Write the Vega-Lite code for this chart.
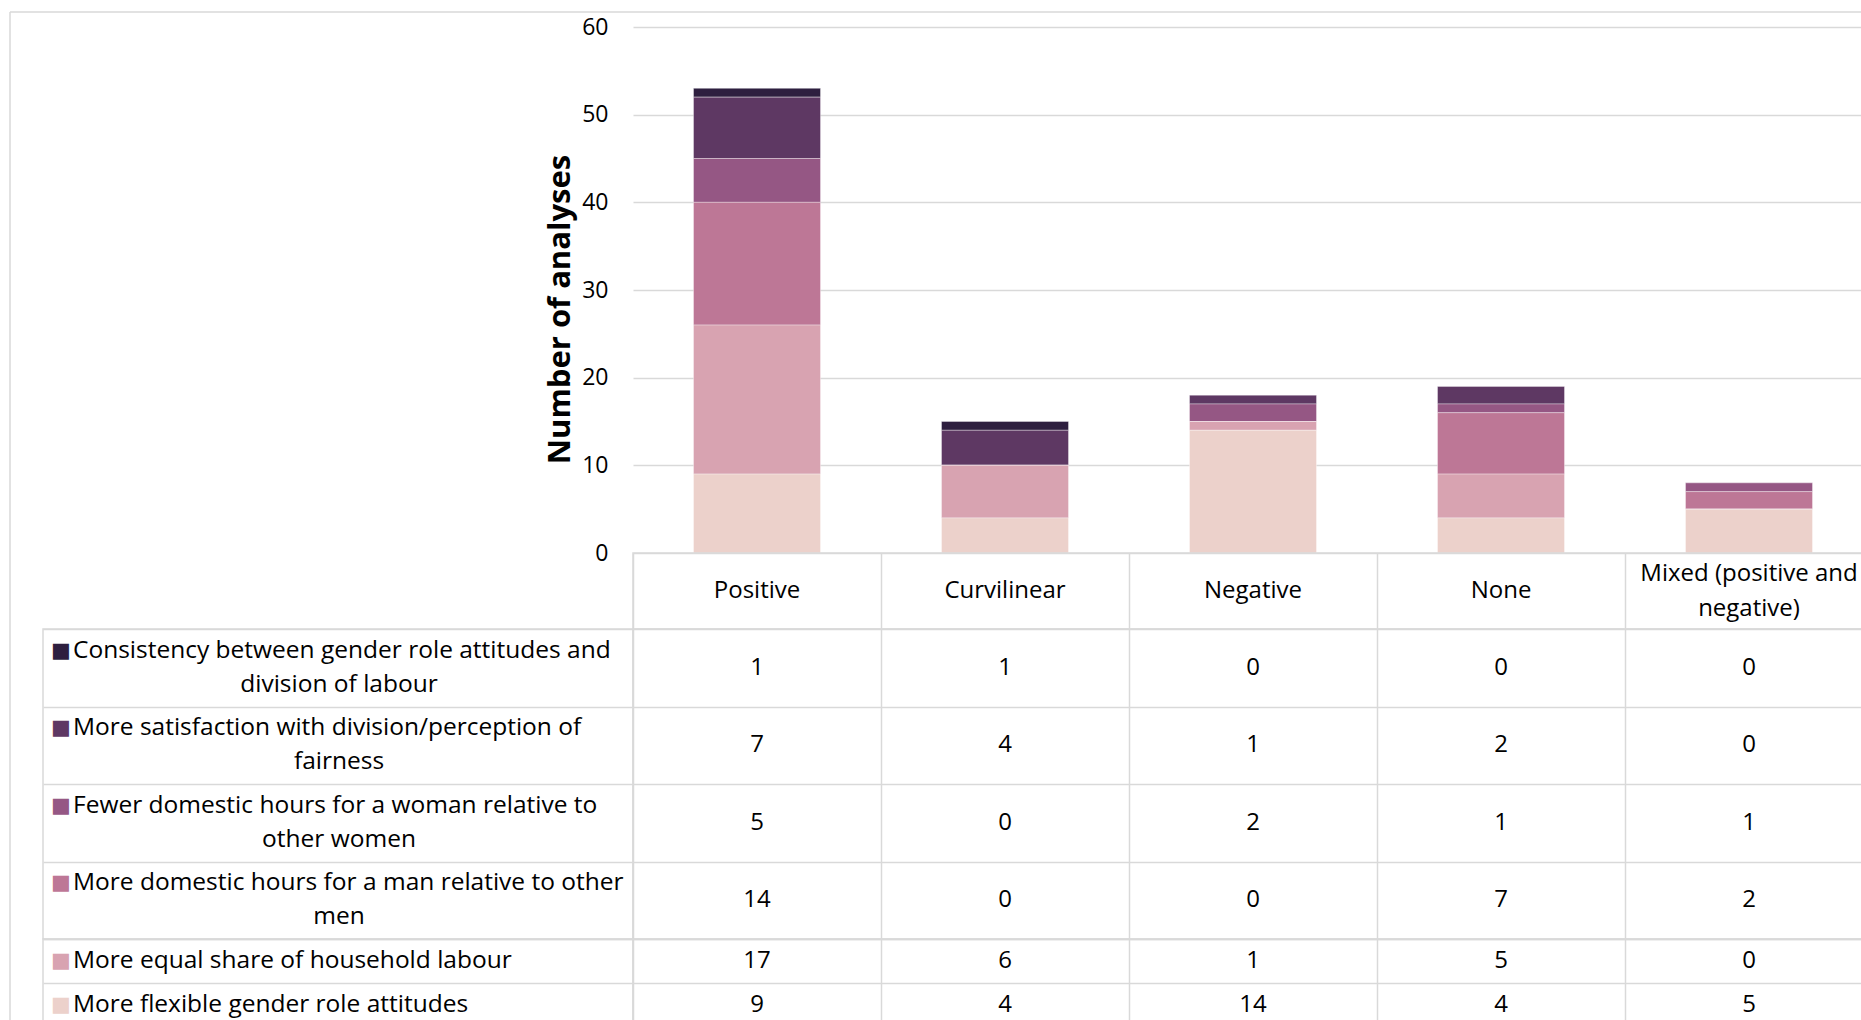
{
  "$schema": "https://vega.github.io/schema/vega-lite/v6.json",
  "background": "white",
  "padding": {"left": 9, "top": 11, "right": 0, "bottom": 0},
  "columns": 3,
  "spacing": 0,
  "bounds": "flush",
  "datasets": {
    "counts": [
      {"row": 1, "series": "Consistency between gender role attitudes and division of labour", "outcome": "Positive", "n": 1},
      {"row": 1, "series": "Consistency between gender role attitudes and division of labour", "outcome": "Curvilinear", "n": 1},
      {"row": 1, "series": "Consistency between gender role attitudes and division of labour", "outcome": "Negative", "n": 0},
      {"row": 1, "series": "Consistency between gender role attitudes and division of labour", "outcome": "None", "n": 0},
      {"row": 1, "series": "Consistency between gender role attitudes and division of labour", "outcome": "Mixed (positive and negative)", "n": 0},
      {"row": 2, "series": "More satisfaction with division/perception of fairness", "outcome": "Positive", "n": 7},
      {"row": 2, "series": "More satisfaction with division/perception of fairness", "outcome": "Curvilinear", "n": 4},
      {"row": 2, "series": "More satisfaction with division/perception of fairness", "outcome": "Negative", "n": 1},
      {"row": 2, "series": "More satisfaction with division/perception of fairness", "outcome": "None", "n": 2},
      {"row": 2, "series": "More satisfaction with division/perception of fairness", "outcome": "Mixed (positive and negative)", "n": 0},
      {"row": 3, "series": "Fewer domestic hours for a woman relative to other women", "outcome": "Positive", "n": 5},
      {"row": 3, "series": "Fewer domestic hours for a woman relative to other women", "outcome": "Curvilinear", "n": 0},
      {"row": 3, "series": "Fewer domestic hours for a woman relative to other women", "outcome": "Negative", "n": 2},
      {"row": 3, "series": "Fewer domestic hours for a woman relative to other women", "outcome": "None", "n": 1},
      {"row": 3, "series": "Fewer domestic hours for a woman relative to other women", "outcome": "Mixed (positive and negative)", "n": 1},
      {"row": 4, "series": "More domestic hours for a man relative to other men", "outcome": "Positive", "n": 14},
      {"row": 4, "series": "More domestic hours for a man relative to other men", "outcome": "Curvilinear", "n": 0},
      {"row": 4, "series": "More domestic hours for a man relative to other men", "outcome": "Negative", "n": 0},
      {"row": 4, "series": "More domestic hours for a man relative to other men", "outcome": "None", "n": 7},
      {"row": 4, "series": "More domestic hours for a man relative to other men", "outcome": "Mixed (positive and negative)", "n": 2},
      {"row": 5, "series": "More equal share of household labour", "outcome": "Positive", "n": 17},
      {"row": 5, "series": "More equal share of household labour", "outcome": "Curvilinear", "n": 6},
      {"row": 5, "series": "More equal share of household labour", "outcome": "Negative", "n": 1},
      {"row": 5, "series": "More equal share of household labour", "outcome": "None", "n": 5},
      {"row": 5, "series": "More equal share of household labour", "outcome": "Mixed (positive and negative)", "n": 0},
      {"row": 6, "series": "More flexible gender role attitudes", "outcome": "Positive", "n": 9},
      {"row": 6, "series": "More flexible gender role attitudes", "outcome": "Curvilinear", "n": 4},
      {"row": 6, "series": "More flexible gender role attitudes", "outcome": "Negative", "n": 14},
      {"row": 6, "series": "More flexible gender role attitudes", "outcome": "None", "n": 4},
      {"row": 6, "series": "More flexible gender role attitudes", "outcome": "Mixed (positive and negative)", "n": 5}
    ],
    "series": [
      {"row": 1, "series": "Consistency between gender role attitudes and division of labour", "line1": "Consistency between gender role attitudes and", "line2": "division of labour"},
      {"row": 2, "series": "More satisfaction with division/perception of fairness", "line1": "More satisfaction with division/perception of", "line2": "fairness"},
      {"row": 3, "series": "Fewer domestic hours for a woman relative to other women", "line1": "Fewer domestic hours for a woman relative to", "line2": "other women"},
      {"row": 4, "series": "More domestic hours for a man relative to other men", "line1": "More domestic hours for a man relative to other", "line2": "men"},
      {"row": 5, "series": "More equal share of household labour", "line1": "More equal share of household labour", "line2": ""},
      {"row": 6, "series": "More flexible gender role attitudes", "line1": "More flexible gender role attitudes", "line2": ""}
    ],
    "outcomes": [
      {"outcome": "Positive", "label": "Positive"},
      {"outcome": "Curvilinear", "label": "Curvilinear"},
      {"outcome": "Negative", "label": "Negative"},
      {"outcome": "None", "label": "None"},
      {"outcome": "Mixed (positive and negative)", "label": "Mixed (positive and\nnegative)"}
    ]
  },
  "concat": [
    {
      "width": 33, "height": 15,
      "data": {"values": [{}]},
      "layer": [
        {"mark": {"type": "rule", "color": "#D9D9D9", "strokeWidth": 1.5},
         "encoding": {"y": {"datum": 1, "type": "quantitative", "scale": {"domain": [0, 1]}, "axis": null}}},
        {"mark": {"type": "rule", "color": "#D9D9D9", "strokeWidth": 1.5},
         "encoding": {"x": {"datum": 0, "type": "quantitative", "scale": {"domain": [0, 1]}, "axis": null}}}
      ]
    },
    {
      "width": 590, "height": 15,
      "data": {"values": [{}]},
      "mark": {"type": "rule", "color": "#D9D9D9", "strokeWidth": 1.5},
      "encoding": {"y": {"datum": 1, "type": "quantitative", "scale": {"domain": [0, 1]}, "axis": null}}
    },
    {
      "width": 1240, "height": 15,
      "data": {"values": [{}]},
      "mark": {"type": "rule", "color": "#D9D9D9", "strokeWidth": 1.5},
      "encoding": {"y": {"datum": 1, "type": "quantitative", "scale": {"domain": [0, 1]}, "axis": null}}
    },
    {
      "width": 33, "height": 526,
      "data": {"values": [{}]},
      "mark": {"type": "rule", "color": "#D9D9D9", "strokeWidth": 1.5},
      "encoding": {"x": {"datum": 0, "type": "quantitative", "scale": {"domain": [0, 1]}, "axis": null}}
    },
    {
      "width": 590, "height": 526,
      "data": {"values": []},
      "mark": "point"
    },
    {
      "width": 1240, "height": 526,
      "data": {"name": "counts"},
      "mark": {"type": "bar", "width": {"band": 0.512}, "stroke": "#ffffff", "strokeOpacity": 0.35, "strokeWidth": 1},
      "encoding": {
        "x": {"field": "outcome", "type": "nominal",
              "scale": {"domain": ["Positive", "Curvilinear", "Negative", "None", "Mixed (positive and negative)"], "paddingInner": 0, "paddingOuter": 0},
              "axis": null},
        "y": {"field": "n", "type": "quantitative", "stack": "zero",
              "scale": {"domain": [0, 60], "nice": false},
              "axis": {"values": [0, 10, 20, 30, 40, 50, 60], "grid": true, "gridColor": "#D9D9D9", "gridWidth": 1.5,
                       "domain": false, "ticks": false, "tickSize": 0, "labelPadding": 25,
                       "labelFont": "Open Sans", "labelFontSize": 23, "labelColor": "#000000",
                       "title": "Number of analyses", "titleFont": "Open Sans", "titleFontSize": 31, "titleFontWeight": "bold",
                       "titleColor": "#000000", "titleX": -57, "titleY": 282}},
        "color": {"field": "series", "type": "nominal",
                  "scale": {"domain": ["Consistency between gender role attitudes and division of labour", "More satisfaction with division/perception of fairness", "Fewer domestic hours for a woman relative to other women", "More domestic hours for a man relative to other men", "More equal share of household labour", "More flexible gender role attitudes"],
                            "range": ["#2E1F3F", "#5E3863", "#955784", "#BD7796", "#D8A3B1", "#ECD1CB"]},
                  "legend": null},
        "order": {"field": "row", "type": "quantitative", "sort": "descending"}
      }
    },
    {
      "width": 33, "height": 76,
      "data": {"values": [{}]},
      "mark": {"type": "rule", "color": "#D9D9D9", "strokeWidth": 1.5},
      "encoding": {"x": {"datum": 0, "type": "quantitative", "scale": {"domain": [0, 1]}, "axis": null}}
    },
    {
      "width": 590, "height": 76,
      "data": {"values": []},
      "mark": "point"
    },
    {
      "width": 1240, "height": 76,
      "view": {"stroke": "#D9D9D9", "strokeWidth": 1.5},
      "data": {"name": "outcomes"},
      "encoding": {
        "x": {"field": "outcome", "type": "nominal",
              "scale": {"domain": ["Positive", "Curvilinear", "Negative", "None", "Mixed (positive and negative)"], "paddingInner": 0, "paddingOuter": 0},
              "axis": {"grid": true, "tickBand": "extent", "gridColor": "#D9D9D9", "gridWidth": 1.5, "labels": false, "ticks": false, "domain": false, "title": null}},
        "text": {"field": "label"}
      },
      "layer": [
        {"transform": [{"filter": "indexof(datum.label, '\\n') < 0"}],
         "mark": {"type": "text", "fontSize": 24, "baseline": "middle"}},
        {"transform": [{"filter": "indexof(datum.label, '\\n') >= 0"}],
         "mark": {"type": "text", "fontSize": 24, "lineBreak": "\n", "lineHeight": 35, "baseline": "middle", "dy": -17}}
      ]
    },
    {
      "width": 33, "height": 310,
      "data": {"values": [{}]},
      "mark": {"type": "rule", "color": "#D9D9D9", "strokeWidth": 1.5},
      "encoding": {"x": {"datum": 0, "type": "quantitative", "scale": {"domain": [0, 1]}, "axis": null}}
    },
    {
      "width": 590, "height": 310,
      "view": {"stroke": "#D9D9D9", "strokeWidth": 1.5},
      "data": {"name": "series"},
      "transform": [{"filter": "datum.row <= 4"}],
      "encoding": {
        "y": {"field": "series", "type": "nominal",
              "scale": {"domain": ["Consistency between gender role attitudes and division of labour", "More satisfaction with division/perception of fairness", "Fewer domestic hours for a woman relative to other women", "More domestic hours for a man relative to other men"], "paddingInner": 0, "paddingOuter": 0},
              "axis": {"grid": true, "tickBand": "extent", "gridColor": "#D9D9D9", "gridWidth": 1.5, "labels": false, "ticks": false, "domain": false, "title": null}}
      },
      "layer": [
        {"mark": {"type": "text", "text": "■", "font": "DejaVu Sans", "fontSize": 21, "align": "center", "baseline": "middle", "dx": -277, "dy": -17},
         "encoding": {"color": {"field": "series", "type": "nominal",
                  "scale": {"domain": ["Consistency between gender role attitudes and division of labour", "More satisfaction with division/perception of fairness", "Fewer domestic hours for a woman relative to other women", "More domestic hours for a man relative to other men", "More equal share of household labour", "More flexible gender role attitudes"],
                            "range": ["#2E1F3F", "#5E3863", "#955784", "#BD7796", "#D8A3B1", "#ECD1CB"]},
                  "legend": null}}},
        {"mark": {"type": "text", "fontSize": 24.5, "align": "left", "baseline": "middle", "dx": -265, "dy": -17},
         "encoding": {"text": {"field": "line1"}}},
        {"mark": {"type": "text", "fontSize": 24.5, "align": "center", "baseline": "middle", "dx": 1, "dy": 17},
         "encoding": {"text": {"field": "line2"}}}
      ]
    },
    {
      "width": 1240, "height": 310,
      "view": {"stroke": "#D9D9D9", "strokeWidth": 1.5},
      "data": {"name": "counts"},
      "transform": [{"filter": "datum.row <= 4"}],
      "mark": {"type": "text", "fontSize": 24, "baseline": "middle"},
      "encoding": {
        "x": {"field": "outcome", "type": "nominal",
              "scale": {"domain": ["Positive", "Curvilinear", "Negative", "None", "Mixed (positive and negative)"], "paddingInner": 0, "paddingOuter": 0},
              "axis": {"grid": true, "tickBand": "extent", "gridColor": "#D9D9D9", "gridWidth": 1.5, "labels": false, "ticks": false, "domain": false, "title": null}},
        "y": {"field": "series", "type": "nominal",
              "scale": {"domain": ["Consistency between gender role attitudes and division of labour", "More satisfaction with division/perception of fairness", "Fewer domestic hours for a woman relative to other women", "More domestic hours for a man relative to other men"], "paddingInner": 0, "paddingOuter": 0},
              "axis": {"grid": true, "tickBand": "extent", "gridColor": "#D9D9D9", "gridWidth": 1.5, "labels": false, "ticks": false, "domain": false, "title": null}},
        "text": {"field": "n", "type": "quantitative"}
      }
    },
    {
      "width": 33, "height": 88,
      "data": {"values": [{}]},
      "mark": {"type": "rule", "color": "#D9D9D9", "strokeWidth": 1.5},
      "encoding": {"x": {"datum": 0, "type": "quantitative", "scale": {"domain": [0, 1]}, "axis": null}}
    },
    {
      "width": 590, "height": 88,
      "view": {"stroke": "#D9D9D9", "strokeWidth": 1.5},
      "data": {"name": "series"},
      "transform": [{"filter": "datum.row >= 5"}],
      "encoding": {
        "y": {"field": "series", "type": "nominal",
              "scale": {"domain": ["More equal share of household labour", "More flexible gender role attitudes"], "paddingInner": 0, "paddingOuter": 0},
              "axis": {"grid": true, "tickBand": "extent", "gridColor": "#D9D9D9", "gridWidth": 1.5, "labels": false, "ticks": false, "domain": false, "title": null}}
      },
      "layer": [
        {"mark": {"type": "text", "text": "■", "font": "DejaVu Sans", "fontSize": 21, "align": "center", "baseline": "middle", "dx": -277},
         "encoding": {"color": {"field": "series", "type": "nominal",
                  "scale": {"domain": ["Consistency between gender role attitudes and division of labour", "More satisfaction with division/perception of fairness", "Fewer domestic hours for a woman relative to other women", "More domestic hours for a man relative to other men", "More equal share of household labour", "More flexible gender role attitudes"],
                            "range": ["#2E1F3F", "#5E3863", "#955784", "#BD7796", "#D8A3B1", "#ECD1CB"]},
                  "legend": null}}},
        {"mark": {"type": "text", "fontSize": 24.5, "align": "left", "baseline": "middle", "dx": -265},
         "encoding": {"text": {"field": "line1"}}}
      ]
    },
    {
      "width": 1240, "height": 88,
      "view": {"stroke": "#D9D9D9", "strokeWidth": 1.5},
      "data": {"name": "counts"},
      "transform": [{"filter": "datum.row >= 5"}],
      "mark": {"type": "text", "fontSize": 24, "baseline": "middle"},
      "encoding": {
        "x": {"field": "outcome", "type": "nominal",
              "scale": {"domain": ["Positive", "Curvilinear", "Negative", "None", "Mixed (positive and negative)"], "paddingInner": 0, "paddingOuter": 0},
              "axis": {"grid": true, "tickBand": "extent", "gridColor": "#D9D9D9", "gridWidth": 1.5, "labels": false, "ticks": false, "domain": false, "title": null}},
        "y": {"field": "series", "type": "nominal",
              "scale": {"domain": ["More equal share of household labour", "More flexible gender role attitudes"], "paddingInner": 0, "paddingOuter": 0},
              "axis": {"grid": true, "tickBand": "extent", "gridColor": "#D9D9D9", "gridWidth": 1.5, "labels": false, "ticks": false, "domain": false, "title": null}},
        "text": {"field": "n", "type": "quantitative"}
      }
    }
  ],
  "config": {
    "view": {"stroke": null},
    "font": "Open Sans",
    "text": {"font": "Open Sans", "fontSize": 24, "color": "#000000"}
  }
}
